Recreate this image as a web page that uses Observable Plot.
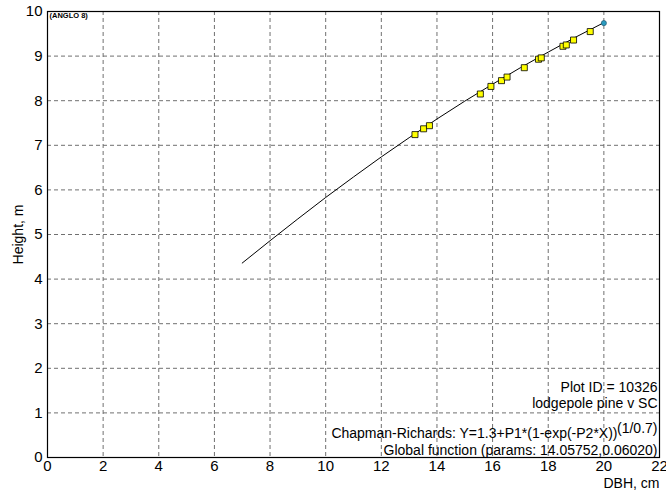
<!DOCTYPE html>
<html>
<head>
<meta charset="utf-8">
<script src="https://cdn.jsdelivr.net/npm/d3@7"></script>
<script src="https://cdn.jsdelivr.net/npm/@observablehq/plot@0.6"></script>
<style>
  html, body { margin: 0; padding: 0; background: #fff; }
  #chart svg { display: block; }
</style>
</head>
<body>
<div id="chart"></div>
<script>
// Tick labels
const xTicks = [0, 2, 4, 6, 8, 10, 12, 14, 16, 18, 20, 22];
const yTicks = [0, 1, 2, 3, 4, 5, 6, 7, 8, 9, 10];

// Fitted curve
const curveX = [7, 8, 9, 10, 11, 12, 13, 14, 15, 16, 17, 18, 19, 20];
const curveY = [4.36, 4.86, 5.35, 5.83, 6.29, 6.74, 7.17, 7.59, 7.99, 8.37, 8.74, 9.09, 9.43, 9.75];

// Observed trees (yellow squares)
const treeDBH = [13.21, 13.52, 13.73, 15.56, 15.94, 16.32, 16.52, 17.14, 17.65, 17.75, 18.53, 18.65, 18.91, 19.51];
const treeHt  = [7.24, 7.37, 7.44, 8.15, 8.32, 8.45, 8.53, 8.74, 8.93, 8.96, 9.22, 9.25, 9.36, 9.55];

// Highlighted point (blue)
const markDBH = [20.0];
const markHt = [9.74];

// Texts
const xLabel = "DBH, cm";
const yLabel = "Height, m";
const cornerTag = "(ANGLO 8)";
const notes = ["Plot ID = 10326", "lodgepole pine v SC"];
const formula = "Chapman-Richards: Y=1.3+P1*(1-exp(-P2*X))";
const formulaExp = "(1/0.7)";
const paramsText = "Global function (params: 14.05752,0.06020)";

const curve = curveX.map((x, i) => ({x, y: curveY[i]}));
const trees = treeDBH.map((x, i) => ({x, y: treeHt[i]}));
const mark = markDBH.map((x, i) => ({x, y: markHt[i]}));

const font = "Liberation Sans, Arial, sans-serif";
const fs = 14;

const chart = Plot.plot({
  width: 666,
  height: 491,
  marginLeft: 47,
  marginRight: 7,
  marginTop: 11,
  marginBottom: 34,
  style: {fontFamily: font, fontSize: "15px", color: "black", background: "white"},
  x: {domain: [0, 22]},
  y: {domain: [0, 10]},
  marks: [
    Plot.gridX(xTicks.slice(1, -1), {stroke: "#707070", strokeOpacity: 1, strokeDasharray: "4,3"}),
    Plot.gridY(yTicks.slice(1, -1), {stroke: "#707070", strokeOpacity: 1, strokeDasharray: "4,3"}),
    Plot.axisX({ticks: xTicks, tickSize: 0, tickPadding: 3, label: null, fontSize: 15}),
    Plot.axisY({ticks: yTicks, tickSize: 0, tickPadding: 5, label: null, fontSize: 15}),
    Plot.frame({stroke: "black", strokeWidth: 1.2}),
    Plot.line(curve, {x: "x", y: "y", stroke: "black", strokeWidth: 1}),
    Plot.dot(trees, {x: "x", y: "y", symbol: "square", r: 3.4, fill: "#ffff00", stroke: "black", strokeWidth: 0.8}),
    Plot.dot(mark, {x: "x", y: "y", symbol: "circle", r: 2.6, fill: "#2a9bbf", stroke: "#1b4f66", strokeWidth: 0.6}),
    Plot.text([cornerTag], {frameAnchor: "top-left", textAnchor: "start", lineAnchor: "middle", dx: 2, dy: 4, fontSize: 7.5, fontWeight: "bold", fill: "black"}),
    Plot.text([notes[0]], {frameAnchor: "bottom-right", textAnchor: "end", lineAnchor: "middle", dx: -2, dy: -70, fontSize: fs, fill: "black"}),
    Plot.text([notes[1]], {frameAnchor: "bottom-right", textAnchor: "end", lineAnchor: "middle", dx: -2, dy: -54, fontSize: fs, fill: "black"}),
    Plot.text([formula], {frameAnchor: "bottom-right", textAnchor: "end", lineAnchor: "middle", dx: -42, dy: -24, fontSize: fs, fill: "black"}),
    Plot.text([formulaExp], {frameAnchor: "bottom-right", textAnchor: "end", lineAnchor: "middle", dx: -2, dy: -29, fontSize: fs, fill: "black"}),
    Plot.text([paramsText], {frameAnchor: "bottom-right", textAnchor: "end", lineAnchor: "middle", dx: -2, dy: -7, fontSize: fs, fill: "black"}),
    Plot.text([yLabel], {frameAnchor: "left", textAnchor: "middle", lineAnchor: "middle", rotate: -90, dx: -29, fontSize: fs, fill: "black"}),
    Plot.text([xLabel], {frameAnchor: "bottom-right", textAnchor: "end", lineAnchor: "middle", dx: 0, dy: 26, fontSize: fs, fill: "black"})
  ]
});
document.getElementById("chart").appendChild(chart);
</script>
</body>
</html>
